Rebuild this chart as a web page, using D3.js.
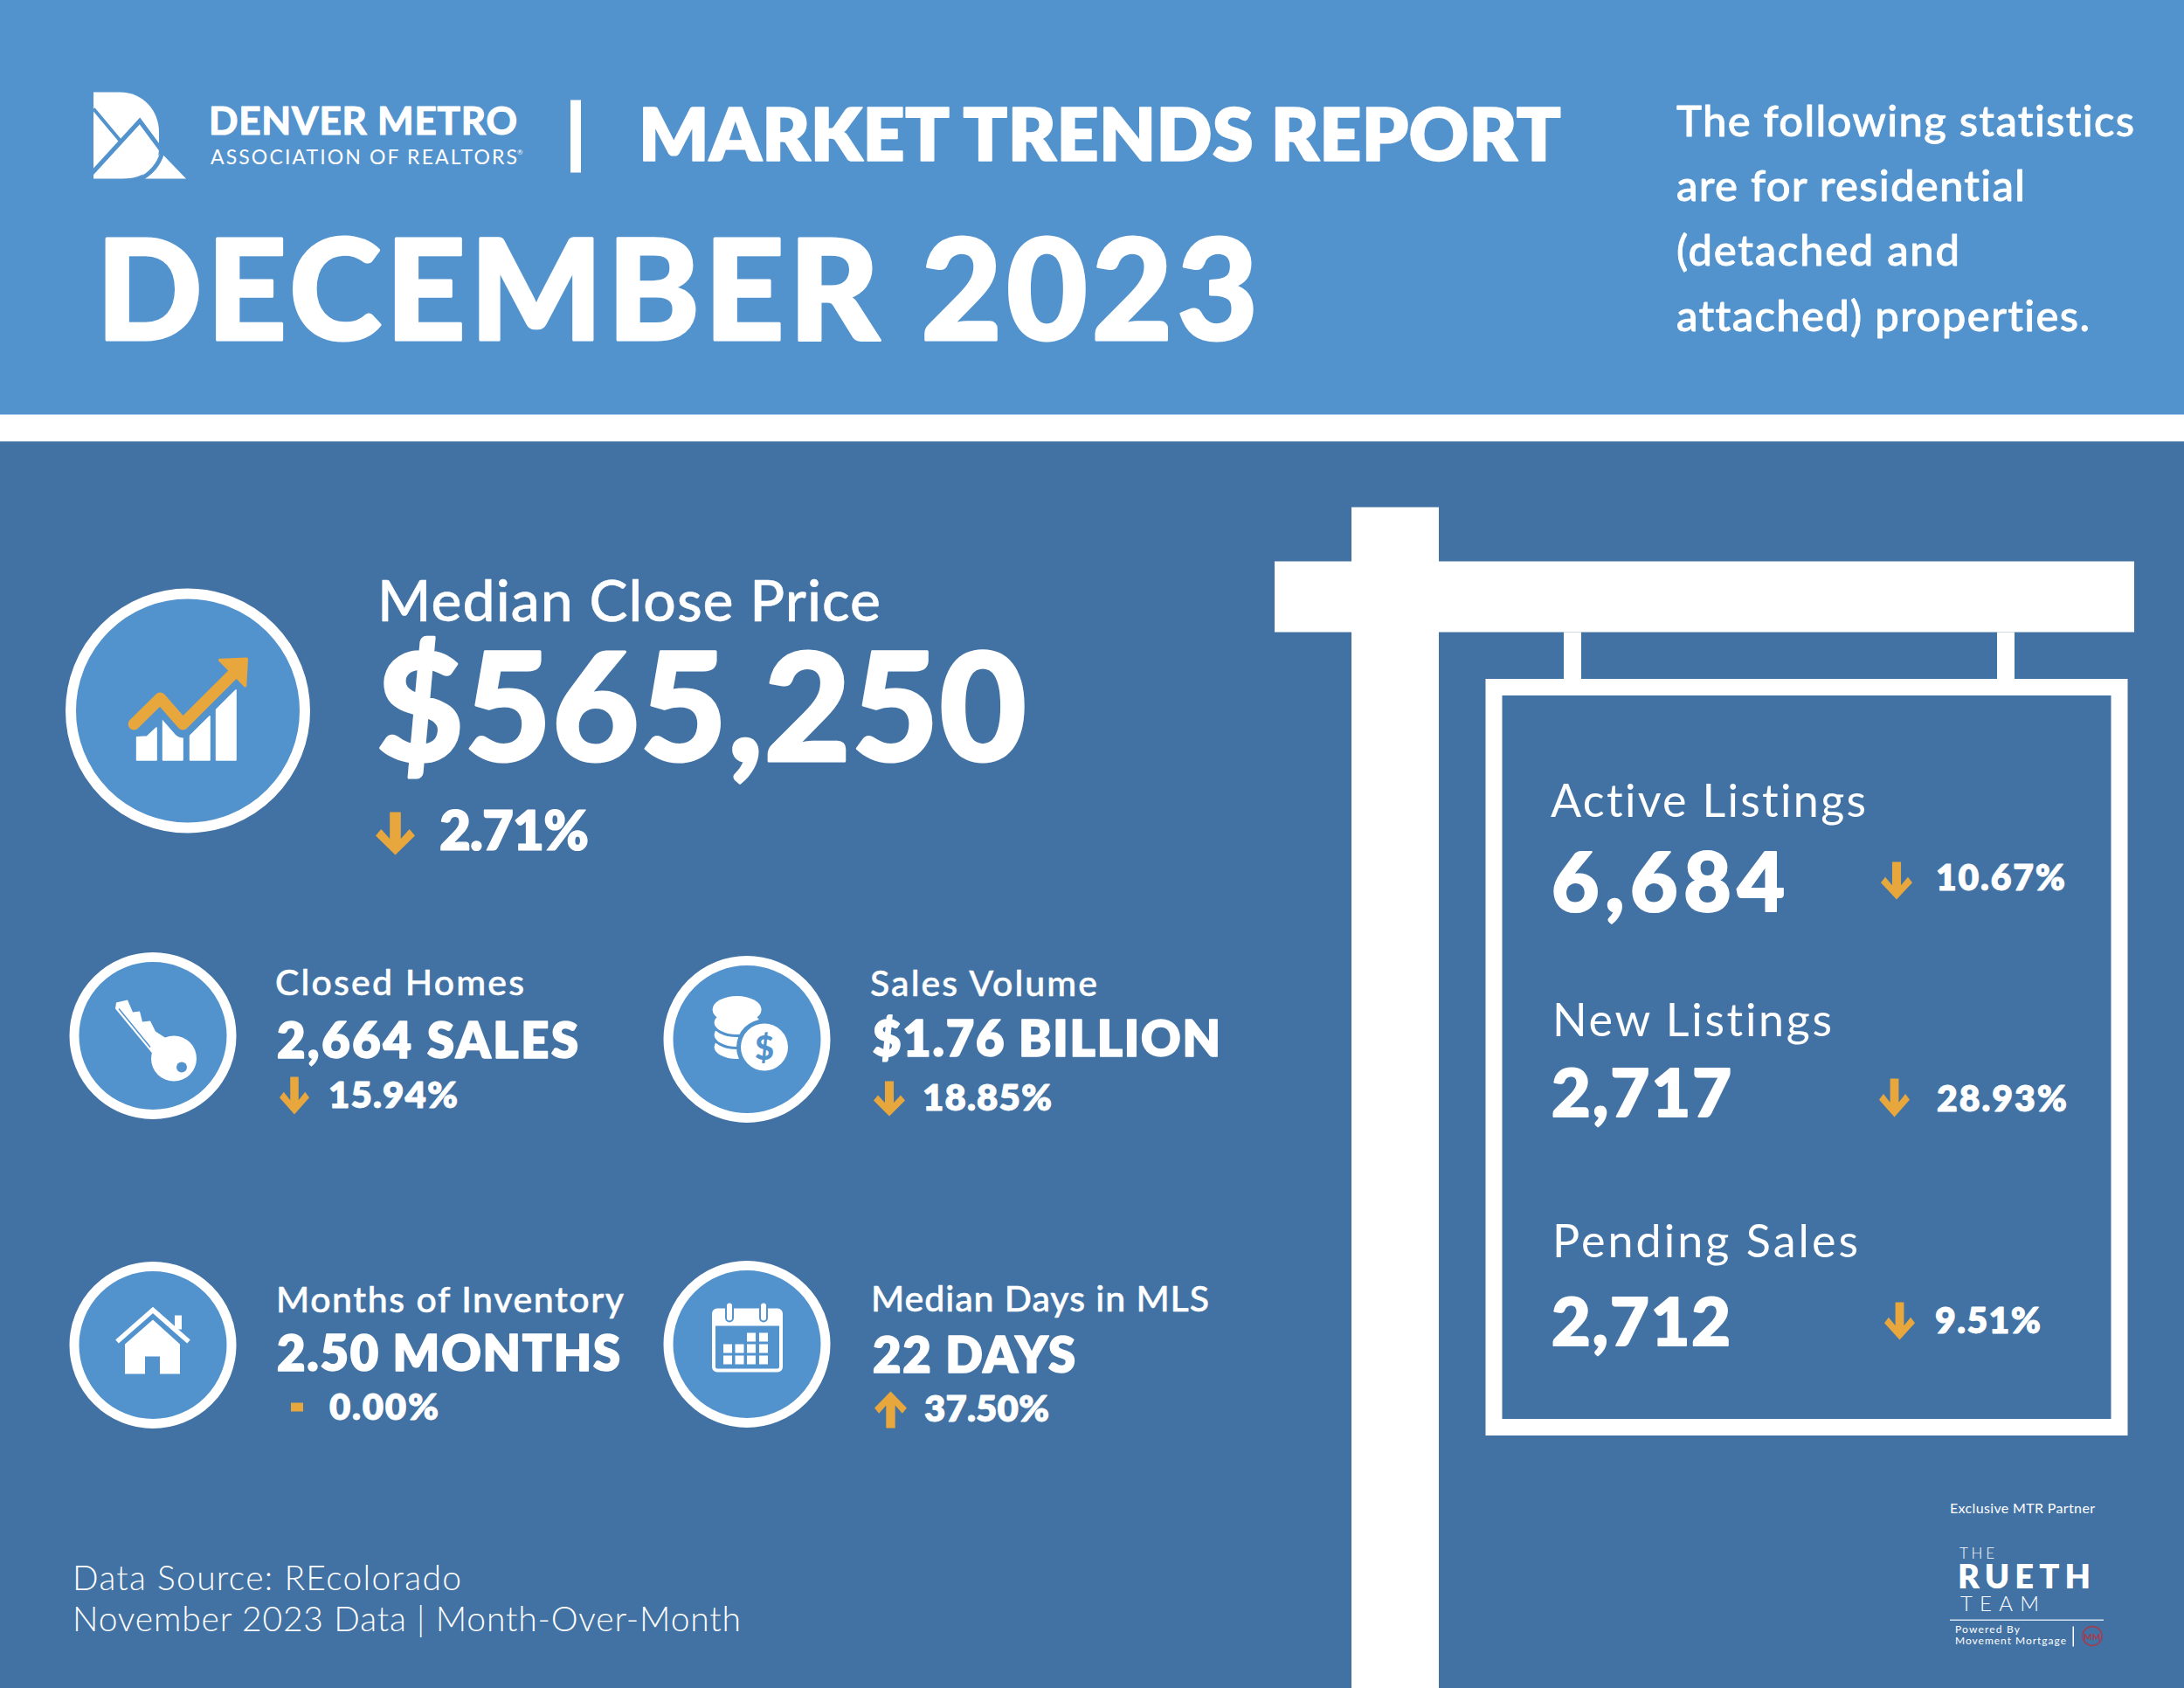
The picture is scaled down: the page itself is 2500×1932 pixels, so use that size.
<!DOCTYPE html>
<html>
<head>
<meta charset="utf-8">
<script src="https://d3js.org/d3.v7.min.js"></script>
<style>
  body { margin: 0; background: #4272a3; }
  text { font-family: Lato, "Noto Sans", sans-serif; fill: #fff; font-variant-ligatures: none; }
</style>
</head>
<body>
<div id="my_dataviz"></div>
<script>

// the numbers and words of the report
var reportTitle = "MARKET TRENDS REPORT";
var reportMonth = "DECEMBER 2023";
var brandName = "DENVER METRO";
var brandSub = "ASSOCIATION OF REALTORS";
var introLines = ["The following statistics", "are for residential", "(detached and", "attached) properties."];

var metricLabels = ["Median Close Price", "Closed Homes", "Sales Volume", "Months of Inventory", "Median Days in MLS"];
var metricValues = ["$565,250", "2,664 SALES", "$1.76 BILLION", "2.50 MONTHS", "22 DAYS"];
var metricChanges = ["2.71%", "15.94%", "18.85%", "0.00%", "37.50%"];
var metricTrends = ["down", "down", "down", "flat", "up"];

var signLabels = ["Active Listings", "New Listings", "Pending Sales"];
var signValues = ["6,684", "2,717", "2,712"];
var signChanges = ["10.67%", "28.93%", "9.51%"];
var signTrends = ["down", "down", "down"];

var footerLines = ["Data Source: REcolorado", "November 2023 Data | Month-Over-Month"];

// colours
var light = "#5393cd", dark = "#4272a3", orange = "#e8a73c", white = "#fff";

// where each block sits. label / value / change: [x, baseline, font size, width]
var metricLayout = [
  {label: [432, 709, 66, 576], value: [431, 869, 172, 744], change: [503, 971, 62, 171], arrow: [430, 928, 45, 49], ring: [215, 812, 134]},
  {label: [315, 1137, 41, 285], value: [317, 1209, 56, 345], change: [376, 1266, 42, 148], arrow: [320, 1231, 34, 43], ring: [175, 1184, 90]},
  {label: [996, 1138.5, 41, 260], value: [999, 1207, 56, 398], change: [1056, 1269, 42, 148], arrow: [1000, 1236, 36, 40], ring: [855, 1188, 90]},
  {label: [316, 1500, 41, 398], value: [317, 1567, 56, 393], change: [377, 1623, 42, 125], arrow: [333, 1604, 14, 10], ring: [175, 1538, 90]},
  {label: [997, 1499, 41, 387], value: [999, 1569, 56, 232], change: [1058, 1625, 42, 143], arrow: [1001, 1591, 37, 42], ring: [855, 1537, 90]}
];
var signLayout = [
  {label: [1775, 933, 52, 361], value: [1776, 1041, 94, 267], change: [2216, 1017, 41, 148], arrow: [2153, 985, 36, 43]},
  {label: [1777, 1184, 52, 320], value: [1776, 1276, 77, 206], change: [2217, 1270, 41, 149], arrow: [2151, 1233, 35, 44]},
  {label: [1777, 1437, 52, 350], value: [1776, 1538, 77, 205], change: [2215, 1524, 41, 121], arrow: [2157, 1489, 35, 43]}
];

var svg = d3.select("#my_dataviz")
  .append("svg")
    .attr("width", 2500)
    .attr("height", 1932)
    .style("display", "block")
  .append("g")
    .attr("transform", "translate(0,1.5)");

function addRect(g, x, y, w, h, fill) {
  return g.append("rect").attr("x", x).attr("y", y).attr("width", w).attr("height", h).attr("fill", fill);
}

// text spaced out to the width it has in the report, thick adds an outline for the heavy cuts
function addText(g, str, pos, weight, thick) {
  var t = g.append("text")
    .attr("x", pos[0])
    .attr("y", pos[1])
    .style("font-size", pos[2] + "px")
    .style("font-weight", weight)
    .text(str);
  if (pos[3]) t.attr("textLength", pos[3]).attr("lengthAdjust", "spacing");
  if (thick) t.style("stroke", white).style("stroke-width", thick).style("stroke-linejoin", "round");
  return t;
}

var line = d3.line();

// down arrow on a unit box, flipped for up
var arrowShape = [[.36,0],[.64,0],[.64,.62],[.86,.40],[1,.55],[.5,1],[0,.55],[.14,.40],[.36,.62]];
function addArrow(g, box, trend) {
  if (trend === "flat") {
    addRect(g, box[0], box[1], box[2], box[3], orange);
    return;
  }
  var pts = arrowShape.map(function(p) {
    return [box[0] + p[0] * box[2], box[1] + (trend === "up" ? 1 - p[1] : p[1]) * box[3]];
  });
  g.append("path").attr("d", line(pts) + "Z").attr("fill", orange);
}

// background bands
addRect(svg, 0, -5, 2500, 479, light);
addRect(svg, 0, 473, 2500, 31, white);
addRect(svg, 0, 504, 2500, 1432, dark);

// header logo
var logo = svg.append("g");
logo.append("path")
  .attr("d", "M107,104 H137 C164,104 182,125 182,150 V168 C182,190 165,203 140,203 H107 Z")
  .attr("fill", white);
logo.append("path").attr("d", line([[160,203],[184,173],[213,203]]) + "Z").attr("fill", white);
logo.append("path").attr("d", line([[107,123],[138,160]])).attr("stroke", light).attr("stroke-width", 4).attr("fill", "none");
logo.append("path").attr("d", line([[105,197],[160,137],[186,172]])).attr("stroke", light).attr("stroke-width", 5).attr("fill", "none");
logo.append("path").attr("d", "M186,172 C182,188 172,198 158,205").attr("stroke", light).attr("stroke-width", 5).attr("fill", "none");

addText(svg, brandName, [239, 152, 44, 353], 700, 1.2);
addText(svg, brandSub, [241, 186, 23, 351], 400);
addText(svg, "®", [592, 175, 8], 400);
addRect(svg, 653, 113, 12, 83, white);
addText(svg, reportTitle, [731, 182, 84, 1056], 800, 1.6);
addText(svg, reportMonth, [110, 387, 160, 1330], 900, 3);

var introPos = [[1919, 154, 49, 524], [1919, 228, 49, 399], [1919, 302, 49, 324], [1919, 377, 49, 473]];
introLines.forEach(function(d, i) { addText(svg, d, introPos[i], 500, 0.8); });

// the for-sale sign
addRect(svg, 1547, 579, 100, 1353, white);
addRect(svg, 1459, 641, 984, 81, white);
addRect(svg, 1790, 722, 20, 60, white);
addRect(svg, 2286, 722, 20, 60, white);
svg.append("rect")
  .attr("x", 1710).attr("y", 785).attr("width", 716).attr("height", 847)
  .attr("fill", dark).attr("stroke", white).attr("stroke-width", 19);

// metric rings
metricLayout.forEach(function(d) {
  svg.append("circle")
    .attr("cx", d.ring[0]).attr("cy", d.ring[1]).attr("r", d.ring[2])
    .attr("fill", light).attr("stroke", white).attr("stroke-width", d.ring[2] > 100 ? 12 : 11);
});

// icon: rising chart
var chart = svg.append("g").attr("transform", "translate(50,650) scale(0.3333)");
[
  [[320,655],[320,577],[355,575],[387,545],[387,655]],
  [[410,655],[410,515],[477,570],[477,655]],
  [[503,655],[503,570],[570,505],[570,655]],
  [[593,655],[593,475],[660,415],[660,655]]
].forEach(function(b) {
  chart.append("path").attr("d", line(b) + "Z").attr("fill", white)
    .attr("stroke", white).attr("stroke-width", 5).attr("stroke-linejoin", "round");
});
chart.append("path").attr("d", line([[310,532],[400,443],[478,532],[650,360]]))
  .attr("fill", "none").attr("stroke", light).attr("stroke-width", 70).attr("stroke-linejoin", "round").attr("transform", "translate(0,12)");
chart.append("path").attr("d", line([[310,532],[400,443],[478,532],[650,360]]))
  .attr("fill", "none").attr("stroke", orange).attr("stroke-width", 40)
  .attr("stroke-linecap", "round").attr("stroke-linejoin", "round");
chart.append("path").attr("d", line([[605,312],[697,308],[692,400]]) + "Z")
  .attr("fill", orange).attr("stroke", orange).attr("stroke-width", 10).attr("stroke-linejoin", "round");

// icon: key
var key = svg.append("g");
key.append("path")
  .attr("d", line([[132,1153],[133,1146],[146,1143],[152,1157],[160,1156],[163,1168],[172,1167],[178,1179],[195,1190],[175,1205]]) + "Z")
  .attr("fill", white);
key.append("circle").attr("cx", 199).attr("cy", 1210).attr("r", 26).attr("fill", white);
key.append("circle").attr("cx", 208).attr("cy", 1220).attr("r", 6).attr("fill", light);
key.append("path").attr("d", line([[136,1153],[172,1197]])).attr("stroke", light).attr("stroke-width", 1.5);

// icon: coins
var coins = svg.append("g");
[1197, 1183, 1169].forEach(function(y) {
  coins.append("ellipse").attr("cx", 843.6).attr("cy", y).attr("rx", 27.5).attr("ry", 15)
    .attr("fill", white).attr("stroke", light).attr("stroke-width", 3);
});
coins.append("ellipse").attr("cx", 843.6).attr("cy", 1154).attr("rx", 28).attr("ry", 15.5).attr("fill", white);
coins.append("circle").attr("cx", 875).attr("cy", 1197).attr("r", 32).attr("fill", light);
coins.append("circle").attr("cx", 875).attr("cy", 1197).attr("r", 27).attr("fill", white);
coins.append("text").attr("x", 875).attr("y", 1211).attr("text-anchor", "middle")
  .style("font-size", "38px").style("font-weight", 900).style("fill", light).text("$");

// icon: house
var house = svg.append("g");
addRect(house, 200, 1504, 8, 16, white);
house.append("path").attr("d", line([[134,1534],[175,1498],[216,1534]]))
  .attr("fill", "none").attr("stroke", white).attr("stroke-width", 5.5);
house.append("path")
  .attr("d", line([[143,1571],[143,1537],[175,1509],[206,1537],[206,1571],[183,1571],[183,1551],[166,1551],[166,1571]]) + "Z")
  .attr("fill", white);

// icon: calendar
var cal = svg.append("g");
cal.append("rect").attr("x", 817).attr("y", 1498).attr("width", 77).attr("height", 69).attr("rx", 4)
  .attr("fill", "none").attr("stroke", white).attr("stroke-width", 4);
addRect(cal, 817, 1498, 77, 18, white);
[835, 874].forEach(function(x) {
  cal.append("rect").attr("x", x - 4).attr("y", 1489).attr("width", 8).attr("height", 22).attr("rx", 4)
    .attr("fill", white).attr("stroke", light).attr("stroke-width", 2);
});
var calCols = [828, 841.5, 855, 869], calRows = [1524, 1537, 1550];
calRows.forEach(function(y, r) {
  calCols.forEach(function(x, c) {
    if (r === 0 && c < 2) return;
    addRect(cal, x, y, 10, 10, white);
  });
});

// metric text
metricLabels.forEach(function(d, i) {
  var l = metricLayout[i];
  addText(svg, d, l.label, 500, 0.5);
  addText(svg, metricValues[i], l.value, i === 0 ? 900 : 800, i === 0 ? 3 : 1.5);
  addText(svg, metricChanges[i], l.change, 800, i === 0 ? 1.2 : 0.8);
  addArrow(svg, l.arrow, metricTrends[i]);
});

// sign text
signLabels.forEach(function(d, i) {
  var l = signLayout[i];
  addText(svg, d, l.label, 400);
  addText(svg, signValues[i], l.value, 900, 2.2);
  addText(svg, signChanges[i], l.change, 800, 0.8);
  addArrow(svg, l.arrow, signTrends[i]);
});

// footer
addText(svg, footerLines[0], [83, 1818, 39, 445], 300);
addText(svg, footerLines[1], [83, 1865, 39, 765], 300);

// partner block
addText(svg, "Exclusive MTR Partner", [2232, 1730, 16, 166], 400);
addText(svg, "THE", [2243, 1782, 17, 40], 300);
addText(svg, "RUETH", [2241, 1816, 38, 152], 800);
addText(svg, "TEAM", [2244, 1842, 24, 90], 300);
addRect(svg, 2232, 1852, 176, 1.5, "#d5e2ef");
addText(svg, "Powered By", [2238, 1867, 12, 74], 400);
addText(svg, "Movement Mortgage", [2238, 1880, 12, 127], 400);
addRect(svg, 2372.5, 1860, 1.5, 23, white);
svg.append("circle").attr("cx", 2395).attr("cy", 1871).attr("r", 11)
  .attr("fill", "none").attr("stroke", "#a83a4a").attr("stroke-width", 1.5);
svg.append("text").attr("x", 2395).attr("y", 1875).attr("text-anchor", "middle")
  .style("font-size", "10px").style("font-weight", 700).style("fill", "#a83a4a").text("MM");

</script>
</body>
</html>
